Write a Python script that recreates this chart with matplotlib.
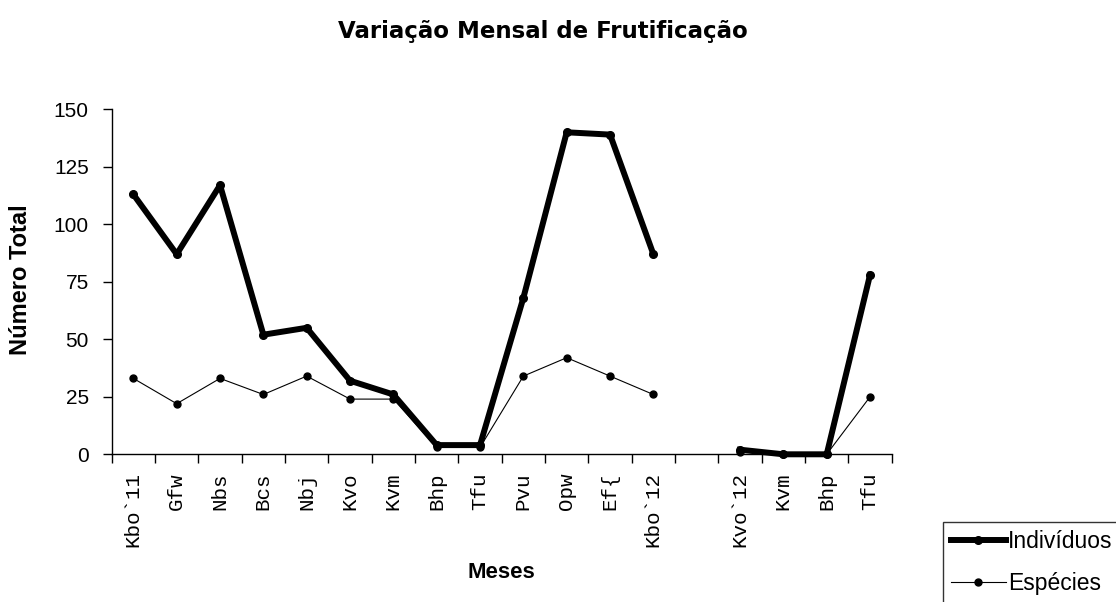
import numpy as np
import matplotlib
matplotlib.use("Agg")
import matplotlib.pyplot as plt
from matplotlib.ticker import FixedLocator, NullFormatter

months = ["Kbo`11", "Gfw", "Nbs", "Bcs", "Nbj", "Kvo", "Kvm", "Bhp", "Tfu",
          "Pvu", "Opw", "Ef{", "Kbo`12", "", "Kvo`12", "Kvm", "Bhp", "Tfu"]
individuos = [113, 87, 117, 52, 55, 32, 26, 4, 4, 68, 140, 139, 87,
              np.nan, 2, 0, 0, 78]
especies = [33, 22, 33, 26, 34, 24, 24, 3, 3, 34, 42, 34, 26,
            np.nan, 1, 0, 0, 25]
yticks = [0, 25, 50, 75, 100, 125, 150]

W, H = 1116, 602
fig = plt.figure(figsize=(W / 100, H / 100), dpi=100)
ax = fig.add_axes([111.7 / W, 1 - 454.3 / H, 780 / W, 345 / H])

x = np.arange(len(months))
ax.plot(x, individuos, color="black", lw=4.3, marker="o", ms=5.5,
        solid_joinstyle="round", clip_on=False, label="Indivíduos", zorder=3)
ax.plot(x, especies, color="black", lw=0.8, marker="o", ms=5,
        clip_on=False, label="Espécies", zorder=4)

ax.set_xlim(-0.5, len(months) - 0.5)
ax.set_ylim(0, 150)
for s in ("top", "right"):
    ax.spines[s].set_visible(False)
for s in ("left", "bottom"):
    ax.spines[s].set_color("black")
    ax.spines[s].set_linewidth(1.0)

ax.set_yticks(yticks)
ax.set_yticklabels([str(v) for v in yticks], fontfamily="Liberation Sans",
                   fontsize=15)
ax.tick_params(axis="y", direction="out", length=6.5, width=1, pad=10)

# major ticks at category boundaries, labels at centers
ax.xaxis.set_major_locator(FixedLocator(np.arange(-0.5, len(months), 1.0)))
ax.xaxis.set_major_formatter(NullFormatter())
ax.xaxis.set_minor_locator(FixedLocator(x))
ax.set_xticklabels(months, minor=True, rotation=90, fontfamily="Liberation Mono",
                   fontsize=15)
ax.tick_params(axis="x", which="major", direction="out", length=6.5, width=1)
ax.tick_params(axis="x", which="minor", length=0, pad=13)

fig.text(542.5 / W, 1 - 38 / H, "Variação Mensal de Frutificação",
         ha="center", va="baseline", fontfamily="DejaVu Sans",
         fontweight="bold", fontsize=16.5)
fig.text(501 / W, 1 - 578 / H, "Meses", ha="center", va="baseline",
         fontfamily="Liberation Sans", fontweight="bold", fontsize=16)
fig.text(21 / W, 1 - 280 / H, "Número Total", ha="center", va="center",
         rotation=90, fontfamily="Liberation Sans", fontweight="bold",
         fontsize=17)

leg = fig.legend(loc="upper left", bbox_to_anchor=(942.7 / W, 1 - 522.3 / H),
                 frameon=True, fancybox=False, shadow=False,
                 prop={"family": "Liberation Sans", "size": 16.5},
                 handlelength=2.4, handletextpad=0.1, labelspacing=0.8,
                 borderpad=0.35, borderaxespad=0)
leg.get_frame().set_edgecolor("black")
leg.get_frame().set_linewidth(1.0)

fig.savefig("out.png", dpi=100)
